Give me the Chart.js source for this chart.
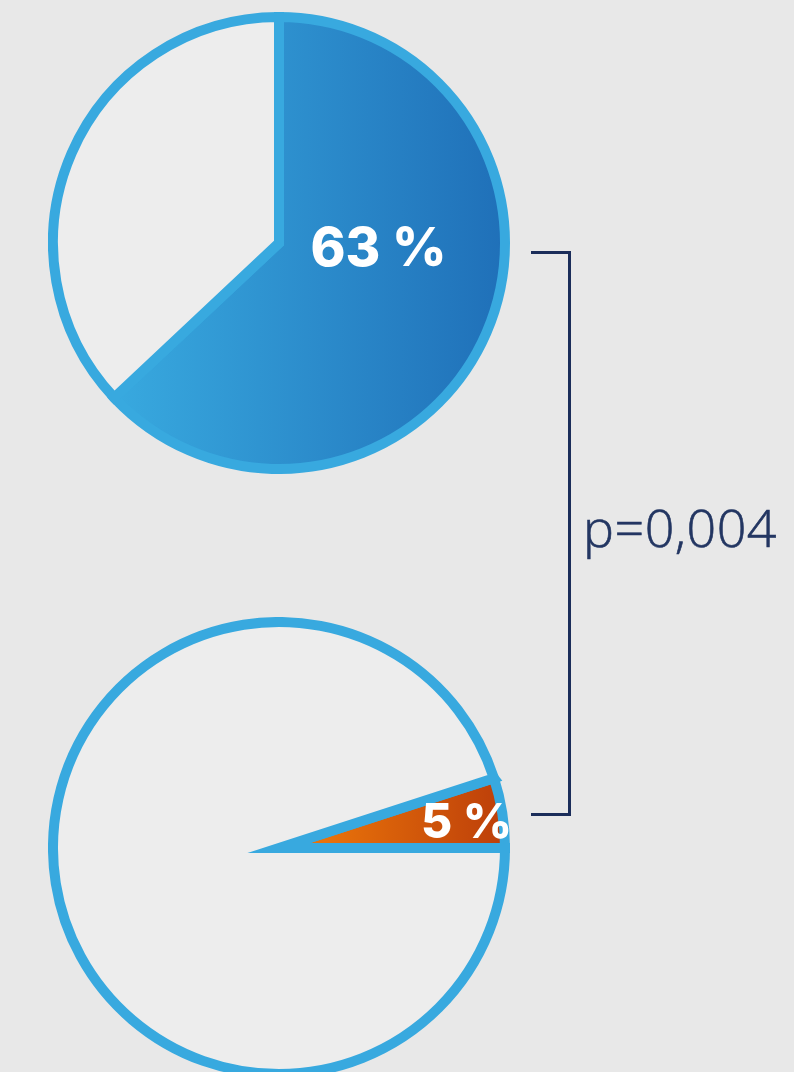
<!doctype html>
<html lang="en">
<head>
<meta charset="utf-8">
<title>Comparación</title>
<script src="https://cdn.jsdelivr.net/npm/chart.js"></script>
<style>
  html, body {
    margin: 0;
    padding: 0;
    width: 794px;
    height: 1072px;
    overflow: hidden;
    background: #e8e8e8;
  }
  .pie {
    position: absolute;
    left: 48px;
  }
  #pieTop { top: 12px; }
  #pieBottom { top: 617px; }
  .bracket {
    position: absolute;
    left: 531px;
    top: 251px;
    width: 37px;
    height: 559px;
    border: 3px solid #1b2d5a;
    border-left: none;
  }
  .pval {
    position: absolute;
    left: 583px;
    top: 491px;
    font-family: "Open Sans", sans-serif;
    font-weight: 300;
    font-size: 52px;
    color: #233662;
    letter-spacing: 0.5px;
    -webkit-text-stroke: 0.6px #233662;
  }
</style>
</head>
<body>

<canvas id="pieTop" class="pie" width="462" height="462"></canvas>
<canvas id="pieBottom" class="pie" width="462" height="462"></canvas>
<div class="bracket"></div>
<div class="pval">p=0,004</div>

<script>
// porcentajes de cada grupo
var grupos = ['Grupo A', 'Grupo B'];
var valoresA = [63, 37];
var valoresB = [5, 95];
var etiquetas = ['63 %', '5 %'];

var azulBorde = '#38a9df';
var grisFondo = '#ededed';

// la primera porción lleva degradado horizontal, el resto gris
function relleno(c1, c2, desde) {
  return function(context) {
    if (context.dataIndex !== 0) return grisFondo;
    var area = context.chart.chartArea;
    if (!area) return c1;
    var g = context.chart.ctx.createLinearGradient(area.left + area.width * desde, 0, area.right, 0);
    g.addColorStop(0, c1);
    g.addColorStop(1, c2);
    return g;
  };
}

// texto blanco dentro de la porción
function etiquetaPlugin(texto, fx, fy, size) {
  return {
    id: 'etiqueta',
    afterDatasetsDraw: function(chart) {
      var arc = chart.getDatasetMeta(0).data[0];
      var ctx = chart.ctx;
      ctx.save();
      ctx.fillStyle = '#ffffff';
      ctx.font = '800 ' + size + 'px Inter, "Open Sans", sans-serif';
      ctx.textAlign = 'center';
      ctx.textBaseline = 'middle';
      ctx.fillText(texto, arc.x + arc.outerRadius * fx, arc.y + arc.outerRadius * fy);
      ctx.restore();
    }
  };
}

function crearPie(id, valores, fondo, rotacion, plugin) {
  return new Chart(document.getElementById(id), {
    type: 'pie',
    data: {
      labels: ['Sí', 'No'],
      datasets: [{
        data: valores,
        backgroundColor: fondo,
        borderColor: azulBorde,
        borderWidth: 10,
        borderJoinStyle: 'miter'
      }]
    },
    options: {
      responsive: false,
      animation: false,
      rotation: rotacion,
      events: [],
      plugins: {
        legend: { display: false },
        tooltip: { enabled: false }
      }
    },
    plugins: [plugin]
  });
}

crearPie('pieTop', valoresA, relleno('#38a9df', '#1f6fb8', 0.15), 0,
  etiquetaPlugin(etiquetas[0], 0.44, 0.03, 53));
crearPie('pieBottom', valoresB, relleno('#e8720a', '#bb3d0a', 0.6), 72,
  etiquetaPlugin(etiquetas[1], 0.83, -0.11, 48));
</script>
</body>
</html>
